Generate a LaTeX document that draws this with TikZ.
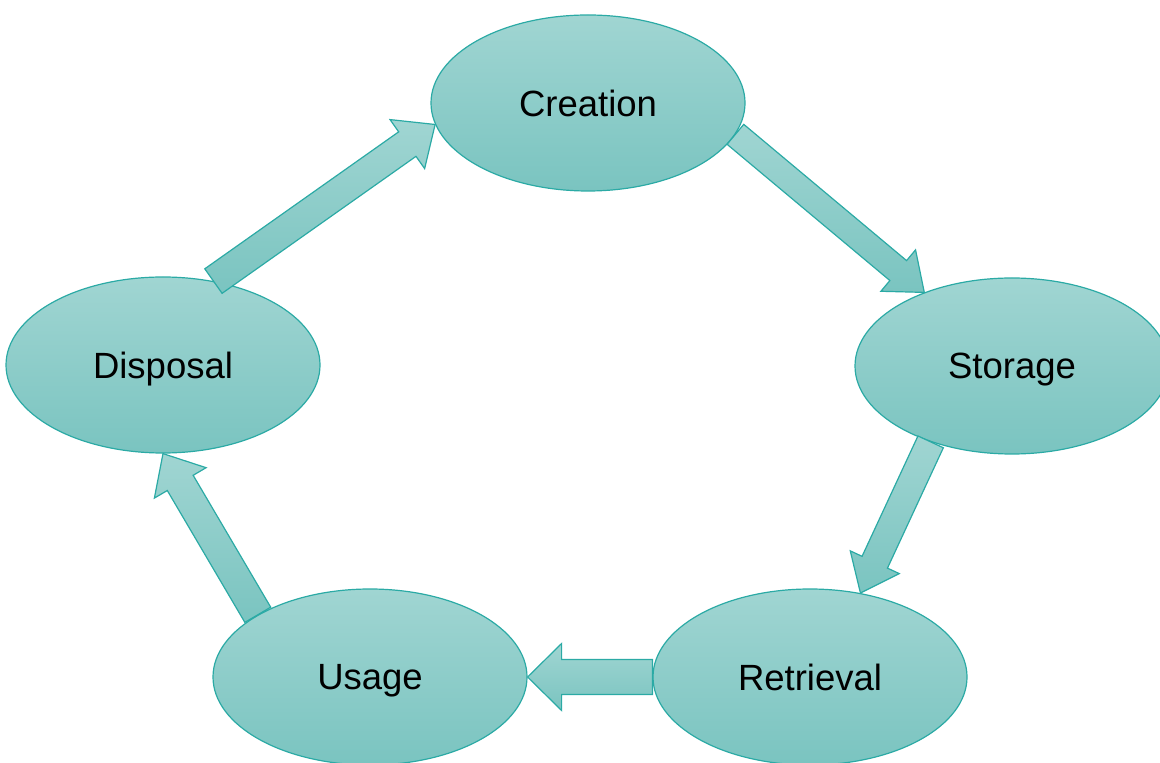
\documentclass[tikz,border=0pt]{standalone}
\usepackage{fontspec}
\setmainfont{Liberation Sans}
\usetikzlibrary{calc}
\usetikzlibrary{shapes.geometric}

\definecolor{tealline}{RGB}{43,170,165}
\definecolor{teallight}{RGB}{160,213,210}
\definecolor{tealdark}{RGB}{122,196,192}

\tikzset{
 stage/.style={ellipse, draw=tealline, line width=0.6pt, top color=teallight, bottom color=tealdark,
  minimum width=157pt, minimum height=88pt, inner sep=0pt, text depth=0pt, font=\fontsize{18.25}{22}\selectfont},
 flow/.style={draw=tealline, line width=0.6pt, line join=miter, top color=teallight, bottom color=tealdark}
}

% block arrow: tail #1, tip #2, half shaft #3, half head #4
\newcommand{\blockarrow}[4]{
 \coordinate (neck) at ($(#2)!17pt!(#1)$);
 \draw[flow] ($(#1)!#3!90:(#2)$) -- ($(neck)!#3!90:(#2)$) -- ($(neck)!#4!90:(#2)$) -- (#2)
  -- ($(neck)!#4!-90:(#2)$) -- ($(neck)!#3!-90:(#2)$) -- ($(#1)!#3!-90:(#2)$) -- cycle;
}

\begin{document}
\begin{tikzpicture}[x=0.5pt, y=-0.5pt]

\useasboundingbox (0,0) rectangle (1160,763);
\clip (0,0) rectangle (1160,763);

\node[stage] (creation) at (588,103) {Creation};
\node[stage] (storage) at (1012,366) {Storage};
\node[stage] (retrieval) at (810,677) {Retrieval};
\node[stage] (usage) at (370,677) {Usage};
\node[stage] (disposal) at (163,365) {Disposal};

\blockarrow{disposal.59}{creation.188}{7.5pt}{15pt}
\blockarrow{creation.348}{storage.140}{6.5pt}{13.5pt}
\blockarrow{storage.223}{retrieval.59}{7pt}{13.5pt}
\blockarrow{retrieval.west}{usage.east}{8.75pt}{16.75pt}
\blockarrow{usage.151}{disposal.south}{7.5pt}{15pt}

\end{tikzpicture}
\end{document}
